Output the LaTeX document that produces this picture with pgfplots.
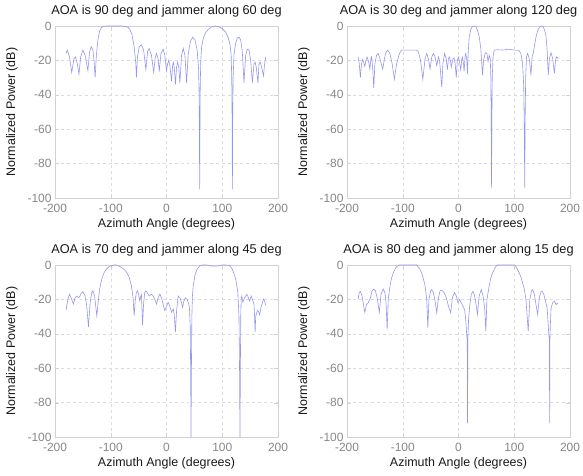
\documentclass[border=0pt]{standalone}
\usepackage{pgfplots}
\pgfplotsset{compat=1.18}
\usepackage{fontspec}
\setmainfont{Liberation Sans}
\definecolor{linec}{RGB}{150,150,236}
\definecolor{tickc}{RGB}{135,135,135}
\definecolor{boxc}{RGB}{210,210,210}
\definecolor{gridc}{RGB}{220,220,220}
\definecolor{labc}{RGB}{25,25,25}
\pgfplotsset{
  pane/.style={
    width=223bp, height=172bp, scale only axis, anchor=south west,
    xmin=-200, xmax=200, ymin=-100, ymax=0,
    xtick={-200,-100,...,200}, ytick={-100,-80,...,0},
    grid=major, major grid style={dashed, color=gridc, line width=0.5pt},
    axis line style={color=boxc, line width=0.6pt},
    tick style={color=boxc}, tick align=inside,
    ticklabel style={font=\fontsize{12}{14}\selectfont, text=tickc},
    xticklabel style={yshift=-2.5pt},
    /pgf/number format/assume math mode=true,
    xlabel={Azimuth Angle (degrees)}, ylabel={Normalized Power (dB)},
    label style={font=\fontsize{12.5}{15}\selectfont, text=labc},
    ylabel style={yshift=3pt},
    xlabel style={yshift=1pt},
    title style={font=\fontsize{12.8}{15}\selectfont, text=labc, yshift=-1pt},
  },
  curve/.style={color=linec, line width=0.6pt, no marks},
}
\begin{document}
\begin{tikzpicture}
\useasboundingbox (0,0) rectangle (583bp,476bp);
% ---- top left
\begin{axis}[pane, at={(55bp,278bp)}, title={AOA is 90 deg and jammer along 60 deg}]
\addplot[curve] coordinates {(-180,-16) (-178,-14) (-174,-18) (-170,-27) (-166,-19) (-163,-18) (-160,-22) (-157,-28) (-154,-18) (-150,-14) (-146,-17) (-141,-26) (-138,-15) (-135,-12) (-132,-14) (-130,-20) (-128,-30) (-126,-18) (-123,-8) (-120,-3) (-117,-1) (-113,-0.2) (-108,0) (-100,0) (-90,0) (-80,0) (-73,-0.3) (-69,-0.8) (-66,-1.8) (-62,-5) (-58,-12) (-55,-22) (-54,-30) (-52,-18) (-49,-12) (-45,-11) (-41,-14) (-37,-25.5) (-34,-15) (-31,-13) (-27,-17) (-23,-27) (-20,-18) (-18,-16) (-15,-19) (-13,-26.5) (-10,-16) (-6,-13.5) (-3,-17) (0,-26) (2,-22) (4,-20) (6,-23) (9,-32) (11,-23) (12,-21) (14,-24) (16,-34) (18,-24) (20,-21) (22,-24) (24,-33) (27,-17) (30,-13) (33,-17) (36,-33) (39,-16) (43,-9) (47,-6.5) (51,-8) (55,-14) (57.5,-25) (58.5,-40) (59,-60) (59.5,-95) (60,-60) (60.5,-35) (61.5,-20) (63,-12) (66,-7) (70,-4) (75,-2) (80,-0.7) (87,0) (94,-0.5) (100,-1.5) (106,-3.5) (111,-7) (114,-11) (116,-17) (117,-30) (117.7,-55) (118.2,-95) (118.7,-55) (119.5,-30) (121,-17) (124,-10) (127,-7) (130,-6.5) (133,-8) (136,-15) (139,-33) (142,-17) (145,-13.5) (148,-14) (151,-20) (154,-33) (157,-22) (159,-21) (161,-24) (164,-33) (166,-22) (168,-21) (170,-23) (174,-29) (176,-22) (178,-18)};
\end{axis}
% ---- top right
\begin{axis}[pane, at={(347bp,278bp)}, title={AOA is 30 deg and jammer along 120 deg}]
\addplot[curve] coordinates {(-180,-18) (-178,-22) (-176,-30) (-174,-22) (-172,-19.5) (-170,-21) (-168,-23.5) (-166,-20) (-164,-18) (-161,-21) (-159,-25) (-157,-18.5) (-156,-18) (-154,-24) (-152,-36) (-150,-22) (-147,-17) (-144,-16) (-141,-19) (-136,-25) (-131,-16) (-127,-14) (-123,-16) (-119,-22) (-115,-31) (-111,-22) (-106,-16) (-102,-14) (-95,-14) (-85,-14) (-75,-14) (-72,-15) (-68,-20) (-64,-31) (-60,-19) (-57,-16) (-54,-19) (-51,-25) (-48,-18) (-45,-16) (-42,-18) (-39,-23) (-36,-18) (-34,-20) (-30,-35.5) (-28,-22) (-25,-16) (-22,-19) (-20,-25.5) (-18,-19) (-16,-18) (-14,-21) (-13,-24) (-10,-19) (-8,-18.5) (-6,-22) (-4,-30) (-2,-20) (0,-18) (2,-21) (4,-25.5) (6,-19) (7,-18) (9,-22) (10,-26.5) (12,-17) (13,-16) (15,-20) (16,-28) (17,-18) (19,-7) (22,-2) (25,-0.3) (28,0) (31,-0.3) (34,-2.5) (37,-6) (40,-13) (43,-28.5) (45,-20) (48,-15.5) (51,-16) (53,-20.7) (55,-17) (57,-19) (58,-30) (58.7,-55) (59.3,-94) (59.8,-55) (60.5,-30) (62,-18) (64,-14) (70,-13.8) (80,-14) (90,-13.5) (100,-14) (108,-14) (112,-16) (115,-22) (117,-35) (118,-60) (118.8,-94) (119.5,-55) (120.5,-30) (122,-18) (124,-16) (127,-19) (130,-28.5) (132,-18) (134,-16) (137,-10) (140,-5) (143,-2) (146,-0.3) (149,0) (152,-0.5) (155,-3) (157,-6) (159,-14) (161,-28.5) (163,-19) (166,-15.5) (169,-19) (172,-27.5) (174,-20) (176,-18) (179,-19)};
\end{axis}
% ---- bottom left
\begin{axis}[pane, at={(55bp,39bp)}, title={AOA is 70 deg and jammer along 45 deg}]
\addplot[curve] coordinates {(-180,-26) (-177,-20) (-174,-17) (-170,-20) (-167,-22.7) (-164,-19) (-161,-18) (-158,-19) (-156,-18.5) (-153,-16.5) (-150,-15.5) (-146,-18) (-143,-24) (-140,-36) (-137,-22) (-134,-16) (-132,-15) (-129,-18) (-125,-29.5) (-122,-20) (-120,-14) (-116,-8) (-112,-4.5) (-108,-2.5) (-104,-1.2) (-100,-0.5) (-95,0) (-90,0) (-84,-0.8) (-78,-2) (-72,-4) (-67,-7) (-63,-12) (-60,-19) (-58,-29.5) (-56,-20) (-54,-16) (-52,-15) (-50,-17) (-48,-20.7) (-46,-18) (-45,-17) (-44,-25) (-43,-35) (-41,-22) (-39,-16) (-37,-15) (-34,-16.5) (-31,-18) (-27,-17) (-24,-18) (-21,-20) (-18,-22.7) (-15,-19) (-12,-17) (-9,-19) (-6,-23) (-3,-26.5) (0,-24) (3,-21.7) (6,-24) (9,-27.5) (12,-25.5) (14,-29) (16,-39) (18,-27) (21,-18) (24,-19) (27,-22) (29,-24.6) (31,-21) (34,-19) (37,-20) (39,-21.7) (41,-24) (42.5,-35) (43.3,-60) (44,-100) (44.7,-60) (45.5,-30) (46.5,-18) (48,-12) (51,-6) (55,-2.3) (59,-0.7) (64,0) (72,0) (78,-0.5) (85,-0.7) (92,-0.6) (99,0) (106,0) (114,-0.5) (118,-2.5) (121,-5) (124,-8) (126,-12) (128,-16) (130,-30) (131,-60) (131.8,-100) (132.5,-60) (133.2,-30) (134,-19) (135,-18) (137,-21.7) (140,-19) (144,-17) (147,-19) (149,-21) (152,-18) (155,-21) (157,-23) (158,-30) (159,-39) (160,-30) (163,-26.5) (165,-27) (167,-29) (170,-24) (174,-19.8) (176,-21) (178,-23.5)};
\end{axis}
% ---- bottom right
\begin{axis}[pane, at={(347bp,39bp)}, title={AOA is 80 deg and jammer along 15 deg}]
\addplot[curve] coordinates {(-180,-20) (-178,-16) (-176,-15.3) (-173,-18) (-170,-24) (-168,-27.5) (-165,-23) (-162,-22) (-158,-19) (-155,-15) (-152,-14) (-149,-15) (-146,-19) (-142,-27.5) (-139,-17) (-135,-14) (-132,-16) (-130,-22) (-128,-37.5) (-126,-20) (-123,-12.4) (-120,-7.5) (-117,-4.6) (-114,-2.5) (-111,-1) (-106,0) (-90,0) (-75,0) (-70,-2) (-66,-4.6) (-63,-8) (-60,-12) (-57,-20) (-55,-36.5) (-53,-20) (-50,-15) (-48,-14.3) (-45,-16) (-42,-21) (-39,-27.8) (-36,-19) (-33,-15) (-30,-14.7) (-26,-16) (-22,-19) (-18,-24) (-14,-27.8) (-11,-19) (-7,-15.9) (-4,-18) (-1,-22) (2,-20) (5,-22) (8,-24) (11,-26) (13,-32) (15,-42) (15.7,-43) (16.2,-92) (16.8,-43) (18,-32) (20,-24) (23,-17) (26,-15.3) (29,-18) (32,-24) (34,-28.8) (37,-18) (41,-14.3) (44,-18) (47,-25) (49,-38.5) (51,-20) (55,-12.4) (58,-7.5) (61,-4.6) (65,-2) (69,0) (85,0) (101,0) (105,-2) (109,-4.6) (113,-8) (118,-14) (121,-20) (125,-38.5) (128,-20) (131,-15) (133,-14.3) (136,-17) (139,-23) (142,-28.8) (145,-19) (148,-15.5) (150,-15.3) (153,-17) (156,-21) (159,-25) (161,-35) (162,-41) (163,-43) (163.5,-92) (164,-43) (165,-33) (166,-25) (169,-22) (172,-21) (175,-23) (178,-22)};
\end{axis}
\end{tikzpicture}
\end{document}
